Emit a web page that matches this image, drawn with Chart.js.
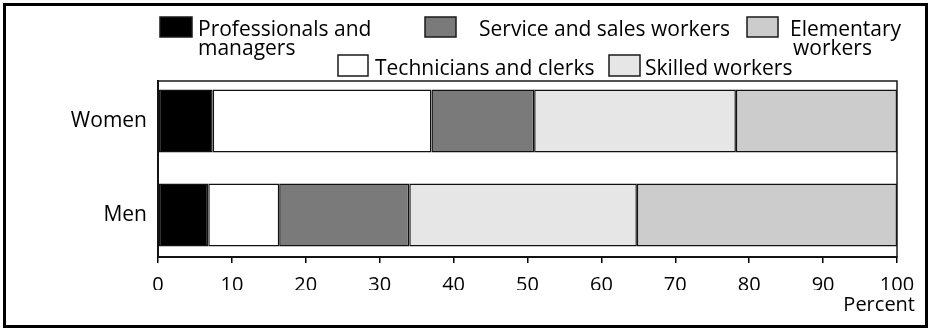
<!DOCTYPE html>
<html>
<head>
<meta charset="utf-8">
<title>Occupations by sex</title>
<script src="https://cdn.jsdelivr.net/npm/chart.js@4/dist/chart.umd.min.js"></script>
<style>
  html, body { margin: 0; padding: 0; background: #fff; }
  #wrap { width: 929px; height: 330px; position: relative; }
</style>
</head>
<body>
<div id="wrap"><canvas id="barChart"></canvas></div>
<script>
// groups, top to bottom
var groups = ['Women', 'Men'];

// series names (legend lines)
var seriesNames = [
  ['Professionals and', 'managers'],
  ['Technicians and clerks'],
  ['Service and sales workers'],
  ['Skilled workers'],
  ['Elementary', 'workers']
];

// share of each group, percent
var professionals = [7.4, 6.8];
var technicians   = [29.6, 9.6];
var service       = [13.9, 17.6];
var skilled       = [27.3, 30.8];
var elementary    = [21.8, 35.2];

var xTicks = [0, 10, 20, 30, 40, 50, 60, 70, 80, 90, 100];

var fills = ['#000000', '#ffffff', '#7a7a7a', '#e6e6e6', '#cccccc'];

// y range so the two bars sit a little off-centre like the printed figure
var yMin = 0.5745;
var yMax = 2.4468;

// where each legend entry sits: swatch box and text line origins
var legendSpots = [
  { box: [160, 17, 32, 20], lines: [[198, 36], [198, 55]] },
  { box: [338, 55, 30, 21], lines: [[375, 75]] },
  { box: [425, 17, 31, 20], lines: [[479, 36]] },
  { box: [609, 55, 31, 21], lines: [[645, 75]] },
  { box: [747, 17, 31, 20], lines: [[790, 36], [793, 55]] }
];

function toPoints(values) {
  return values.map(function(v, i) { return { x: v, y: i + 1 }; });
}

var allSeries = [professionals, technicians, service, skilled, elementary];

var datasets = allSeries.map(function(values, i) {
  return {
    label: seriesNames[i].join(' '),
    data: toPoints(values),
    backgroundColor: fills[i],
    borderColor: '#111',
    borderWidth: 1.5,
    borderSkipped: false,
    barPercentage: 0.67,
    categoryPercentage: 1
  };
});

var framePlugin = {
  id: 'frame',
  afterDraw: function(chart) {
    var ctx = chart.ctx;
    var area = chart.chartArea;
    ctx.save();

    // plot box
    ctx.strokeStyle = '#1a1a1a';
    ctx.lineWidth = 1.5;
    ctx.strokeRect(area.left, area.top, area.right - area.left, area.bottom - area.top);

    // outer border
    ctx.strokeStyle = '#000';
    ctx.lineWidth = 3;
    ctx.strokeRect(4.5, 4.5, 922, 322);

    // legend
    ctx.font = '21px "Open Sans"';
    ctx.textBaseline = 'alphabetic';
    ctx.textAlign = 'left';
    chart.data.datasets.forEach(function(ds, i) {
      var spot = legendSpots[i];
      var b = spot.box;
      ctx.fillStyle = ds.backgroundColor;
      ctx.fillRect(b[0], b[1], b[2], b[3]);
      ctx.strokeStyle = '#1a1a1a';
      ctx.lineWidth = 1.5;
      ctx.strokeRect(b[0], b[1], b[2], b[3]);
      ctx.fillStyle = '#000';
      seriesNames[i].forEach(function(line, j) {
        ctx.fillText(line, spot.lines[j][0], spot.lines[j][1]);
      });
    });

    // axis unit
    ctx.font = '20px "Open Sans"';
    ctx.textAlign = 'right';
    ctx.fillText('Percent', area.right + 18, 311);
    ctx.restore();
  }
};

function drawChart() {
  Chart.defaults.font.family = '"Open Sans"';
  Chart.defaults.color = '#000';

  var ctx = document.getElementById('barChart');
  new Chart(ctx, {
    type: 'bar',
    data: { datasets: datasets },
    options: {
      indexAxis: 'y',
      responsive: true,
      maintainAspectRatio: false,
      animation: false,
      layout: { padding: { top: 81, left: 8, right: 32, bottom: 40 } },
      plugins: {
        legend: { display: false },
        tooltip: { enabled: false }
      },
      scales: {
        x: {
          type: 'linear',
          stacked: true,
          min: 0,
          max: 100,
          afterBuildTicks: function(scale) {
            scale.ticks = xTicks.map(function(v) { return { value: v }; });
          },
          afterFit: function(scale) { scale.height = 33; },
          ticks: { font: { size: 20 }, padding: 10, maxRotation: 0 },
          grid: { drawOnChartArea: false, tickLength: 6, color: '#000', lineWidth: 1.5 },
          border: { color: '#000', width: 2 }
        },
        y: {
          type: 'linear',
          stacked: true,
          reverse: true,
          offset: false,
          bounds: 'data',
          min: yMin,
          max: yMax,
          afterBuildTicks: function(scale) {
            scale.ticks = groups.map(function(g, i) { return { value: i + 1 }; });
            scale.min = yMin;
            scale.max = yMax;
          },
          afterFit: function(scale) { scale.width = 150; },
          ticks: {
            font: { size: 21 },
            padding: 11,
            callback: function(value) { return groups[value - 1]; }
          },
          grid: { display: false, drawTicks: false, offset: false },
          border: { color: '#000', width: 2 }
        }
      }
    },
    plugins: [framePlugin]
  });
}

drawChart();
</script>
</body>
</html>
